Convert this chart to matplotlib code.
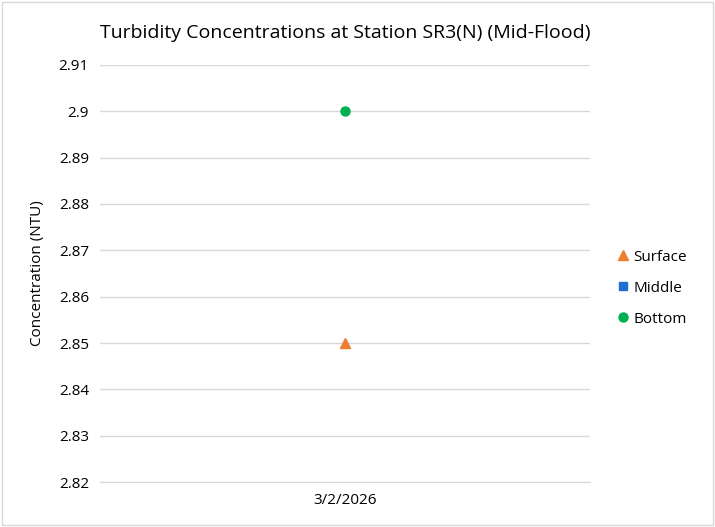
import matplotlib
matplotlib.use('agg')
import matplotlib.pyplot as plt
from matplotlib.lines import Line2D

plt.rcParams['font.family'] = ['Open Sans', 'DejaVu Sans']

dates = ["3/2/2026"]
surface = [2.85]
middle = [2.90]
bottom = [2.90]
yticks = [2.82, 2.83, 2.84, 2.85, 2.86, 2.87, 2.88, 2.89, 2.9, 2.91]
ytick_labels = ["2.82", "2.83", "2.84", "2.85", "2.86", "2.87", "2.88", "2.89", "2.9", "2.91"]

fig = plt.figure(figsize=(7.15, 5.27), dpi=100)
ax = fig.add_axes([0.14, 0.085, 0.685, 0.792])

x = list(range(len(dates)))
# middle sits under the bottom marker (same value), so keep it small enough to hide
ax.plot(x, surface, linestyle='none', marker='^', color='#ED7D31', markersize=6.5, zorder=3)
ax.plot(x, middle, linestyle='none', marker='s', color='#1F6FD0', markersize=4, zorder=3)
ax.plot(x, bottom, linestyle='none', marker='o', color='#00B050', markersize=6.5, zorder=4)

ax.set_xlim(-0.5, len(dates) - 0.5)
ax.set_ylim(2.82, 2.91)
ax.set_yticks(yticks)
ax.set_yticklabels(ytick_labels)
ax.set_xticks(x)
ax.set_xticklabels(dates)
ax.grid(axis='y', color='#D9D9D9', linewidth=1)
ax.set_axisbelow(True)
for s in ['top', 'right', 'left']:
    ax.spines[s].set_visible(False)
ax.spines['bottom'].set_color('#D9D9D9')
ax.tick_params(axis='both', length=0, labelsize=11, colors='#000000', pad=8)
ax.set_ylabel("Concentration (NTU)", fontsize=11, labelpad=10)
ax.set_title("Turbidity Concentrations at Station SR3(N) (Mid-Flood)", fontsize=14, pad=19)

handles = [
    Line2D([], [], linestyle='none', marker='^', color='#ED7D31', markersize=6.5),
    Line2D([], [], linestyle='none', marker='s', color='#1F6FD0', markersize=5.5),
    Line2D([], [], linestyle='none', marker='o', color='#00B050', markersize=6.5),
]
ax.legend(handles, ["Surface", "Middle", "Bottom"], loc='center left',
          bbox_to_anchor=(1.02, 0.465), frameon=False, fontsize=11,
          handletextpad=0.1, labelspacing=1.05, handlelength=1.2)

fig.patches.append(plt.Rectangle((0.003, 0.003), 0.994, 0.994, transform=fig.transFigure,
                                 fill=False, edgecolor='#D9D9D9', linewidth=1))

plt.savefig("out.png", dpi=100)
